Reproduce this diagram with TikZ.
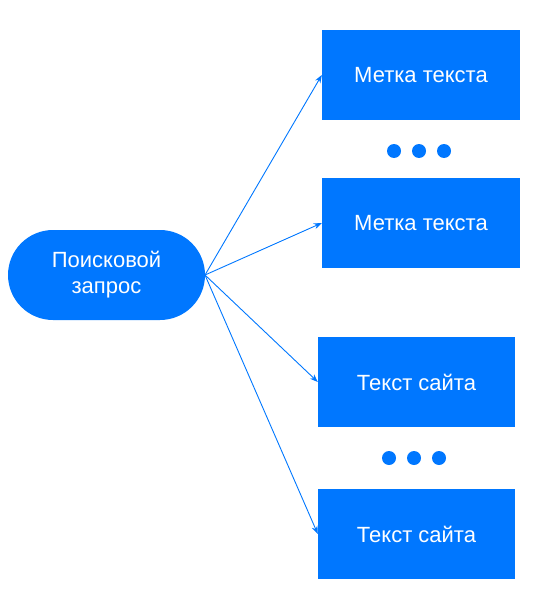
\documentclass[tikz,border=0pt]{standalone}
\usepackage{fontspec}
\setmainfont{Liberation Sans}
\usetikzlibrary{shapes.misc,arrows.meta}
\definecolor{brand}{RGB}{0,119,255}
\begin{document}
\begin{tikzpicture}[x=1pt,y=-1pt,
  box/.style={fill=brand,draw=none,text=white,minimum width=198pt,minimum height=90pt,inner sep=0pt,font=\fontsize{22}{26}\selectfont},
  pill/.style={rounded rectangle,fill=brand,draw=none,text=white,minimum width=197pt,minimum height=90pt,inner sep=0pt,align=center,font=\fontsize{22}{26}\selectfont},
  conn/.style={draw=brand,line width=0.9pt,-{Stealth[length=8pt,width=6pt]}},
  dot/.style={circle,fill=brand,draw=none,minimum width=14pt,minimum height=14pt,inner sep=0pt}]
\useasboundingbox (0,0) rectangle (549,591);
\node[pill] (q) at (106.5,275) {Поисковой\\запрос};
\node[box] (m1) at (421,75) {Метка текста};
\node[box] (m2) at (421,223) {Метка текста};
\node[box,minimum width=197pt] (s1) at (416.5,382) {Текст сайта};
\node[box,minimum width=197pt] (s2) at (416.5,534) {Текст сайта};
\node[dot] (d1) at (394,151) {};
\node[dot] (d2) at (419,151) {};
\node[dot] (d3) at (444,151) {};
\node[dot] (d4) at (389,458) {};
\node[dot] (d5) at (414,458) {};
\node[dot] (d6) at (439,458) {};
\coordinate (o) at (205,275);
\draw[conn] (o) -- (m1.west);
\draw[conn] (o) -- (m2.west);
\draw[conn] (o) -- (s1.west);
\draw[conn] (o) -- (s2.west);
\end{tikzpicture}
\end{document}
